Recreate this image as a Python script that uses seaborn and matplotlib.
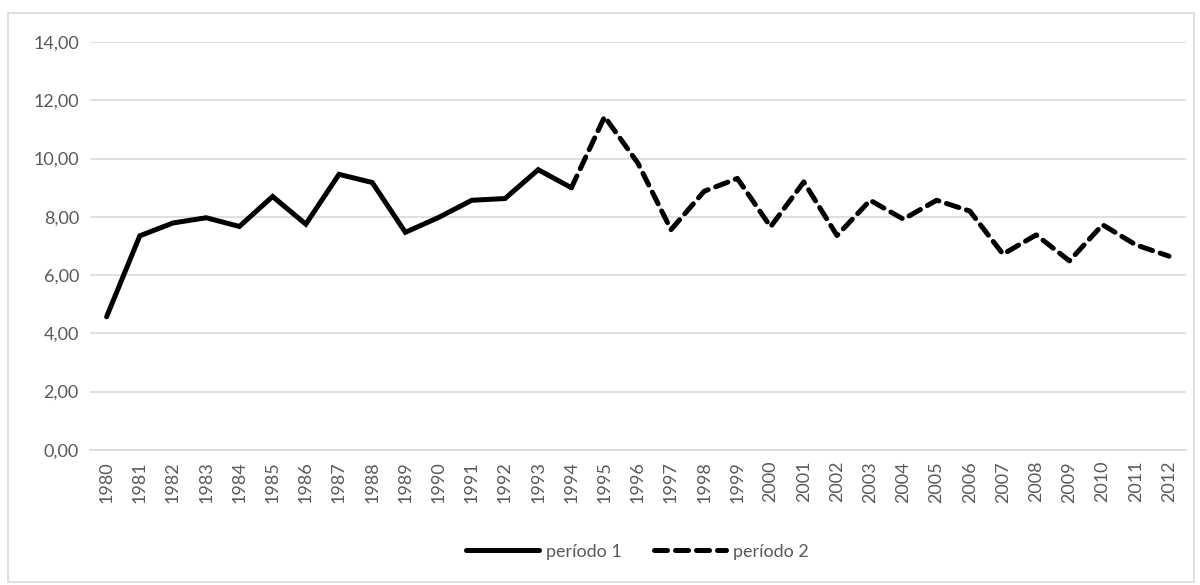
import pandas as pd
import numpy as np
import matplotlib
matplotlib.use("Agg")
import matplotlib.pyplot as plt
import seaborn as sns
from matplotlib.patches import Rectangle

# data
years_p1 = list(range(1980, 1995))
values_p1 = [4.57, 7.35, 7.79, 7.97, 7.67, 8.70, 7.75, 9.46, 9.18, 7.47,
             7.98, 8.57, 8.63, 9.62, 9.00]
years_p2 = list(range(1994, 2013))
values_p2 = [9.00, 11.44, 9.85, 7.56, 8.88, 9.32, 7.66, 9.20, 7.36, 8.57,
             7.92, 8.57, 8.20, 6.72, 7.38, 6.49, 7.73, 7.04, 6.65]
all_years = [str(y) for y in range(1980, 2013)]

df = pd.concat([
    pd.DataFrame({"Ano": years_p1, "Valor": values_p1, "Período": "período 1"}),
    pd.DataFrame({"Ano": years_p2, "Valor": values_p2, "Período": "período 2"}),
])
df["pos"] = df["Ano"] - 1980

sns.set_theme(style="white")
plt.rcParams["font.family"] = ["Lato", "DejaVu Sans"]

fig = plt.figure(figsize=(12, 5.85), dpi=100)
ax = fig.add_axes([0.075, 0.231, 0.913, 0.697])

sns.lineplot(data=df, x="pos", y="Valor", style="Período", color="black",
             dashes={"período 1": "", "período 2": (2.6, 1.6)},
             linewidth=3.6, ax=ax, legend=True)
for line in ax.lines:
    line.set_dash_capstyle("round")
    line.set_solid_capstyle("round")
    line.set_solid_joinstyle("miter")

ax.set_xlim(-0.5, len(all_years) - 0.5)
ax.set_ylim(0, 14)
ax.set_yticks(np.arange(0, 15, 2))
ax.set_yticklabels([f"{v:.2f}".replace(".", ",") for v in np.arange(0, 15, 2)],
                   fontsize=13, color="#595959")
ax.set_xticks(range(len(all_years)))
ax.set_xticklabels(all_years, rotation=90, fontsize=13, color="#595959")
ax.tick_params(axis="both", length=0, pad=8)
ax.yaxis.grid(True, color="#d9d9d9", linewidth=1.2)
ax.set_axisbelow(True)
for s in ax.spines.values():
    s.set_visible(False)
ax.spines["bottom"].set_visible(True)
ax.spines["bottom"].set_color("#d9d9d9")
ax.set_xlabel("")
ax.set_ylabel("")

handles, labels = ax.get_legend_handles_labels()
ax.legend(handles, labels, loc="center", bbox_to_anchor=(0.5, -0.25),
          ncol=2, frameon=False, fontsize=13, labelcolor="#595959",
          handlelength=4, columnspacing=1.8, handletextpad=0.4)

fig.patches.append(Rectangle((0.007, 0.005), 0.988, 0.972, transform=fig.transFigure,
                             fill=False, edgecolor="#d9d9d9", linewidth=1.2))

fig.savefig("out.png", dpi=100, facecolor="white")
